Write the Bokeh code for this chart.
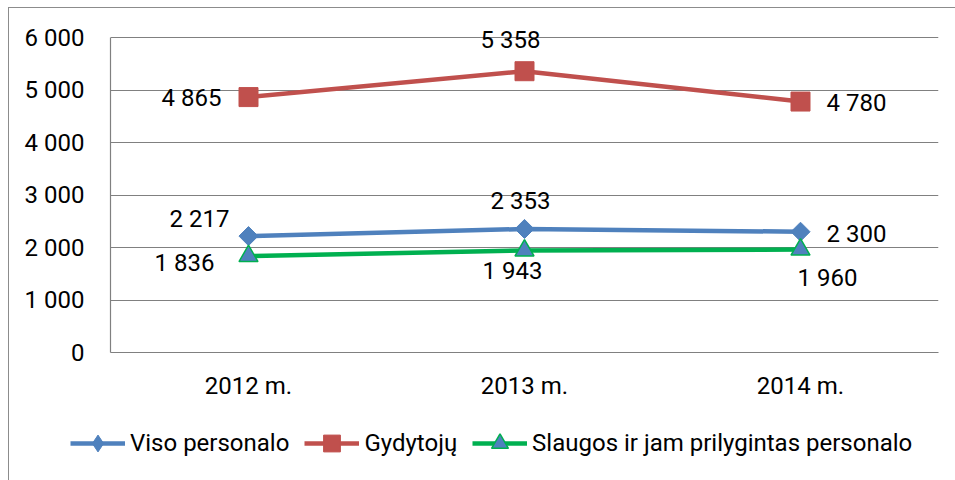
import math
from bokeh.plotting import figure
from bokeh.layouts import column
from bokeh.models import (FactorRange, Range1d, FixedTicker, ColumnDataSource,
                          Legend, LegendItem, LabelSet)
from bokeh.core.properties import value
from bokeh.embed import file_html
from bokeh.resources import INLINE

# ---- data ----
years = ["2012 m.", "2013 m.", "2014 m."]
viso = [2217, 2353, 2300]
gydytoju = [4865, 5358, 4780]
slaugos = [1836, 1943, 1960]
series_names = ["Viso personalo", "Gydytojų", "Slaugos ir jam prilygintas personalo"]
y_ticks = [0, 1000, 2000, 3000, 4000, 5000, 6000]

# ---- style ----
FONT = "Roboto"
FS = "24px"
BLUE = "#4F81BD"
RED = "#C0504D"
GREEN = "#00B050"
GRID = "#808080"
# label offsets (screen px, +x right, +y down) per point: viso, gydytoju, slaugos
label_dx = [[-49, -4, 56], [-57, -14, 56], [-64, -12, 27]]
label_dy = [[-17, -28, 2], [1, -31, 1], [7, 21, 28]]

series = [viso, gydytoju, slaugos]
line_colors = [BLUE, RED, GREEN]
marker_kw = [
    dict(marker="square", size=13.5, angle=math.pi / 4, fill_color=BLUE, line_color=BLUE),
    dict(marker="square", size=19, fill_color=RED, line_color=RED),
    dict(marker="triangle", size=19, fill_color=BLUE, line_color=GREEN, line_width=1.5),
]
legend_marker_kw = [
    dict(marker="diamond", fill_color=BLUE, line_color=BLUE),
    dict(marker="square", fill_color=RED, line_color=RED),
    dict(marker="triangle", fill_color=BLUE, line_color=GREEN, line_width=1.5),
]


def fmt(v):
    return f"{v:,}".replace(",", " ")


# frame: 0 at 352px, 6000 at 37px; range extends above 6000 so labels are not clipped
p = figure(width=946, height=410,
           x_range=FactorRange(factors=years), y_range=Range1d(0, 6400),
           output_backend="svg", toolbar_location=None,
           min_border_left=101, min_border_top=8,
           min_border_right=17, min_border_bottom=66)
p.frame_align = False
p.outline_line_color = None
p.background_fill_color = "white"
p.border_fill_color = "white"

# axes
for ax in (p.xaxis[0], p.yaxis[0]):
    ax.axis_line_color = GRID
    ax.axis_line_width = 1.2
    ax.major_tick_line_color = None
    ax.minor_tick_line_color = None
    ax.major_tick_out = 0
    ax.major_tick_in = 0
    ax.major_label_text_font = FONT
    ax.major_label_text_font_size = FS
    ax.major_label_text_color = "black"
p.xaxis.major_label_standoff = 19
p.yaxis.ticker = FixedTicker(ticks=y_ticks)
p.yaxis.bounds = (0, 6000)
p.yaxis.major_label_overrides = {t: fmt(t) for t in y_ticks}
p.yaxis.major_label_standoff = 26

p.xgrid.grid_line_color = None
p.ygrid.ticker = FixedTicker(ticks=y_ticks)
p.ygrid.grid_line_color = GRID
p.ygrid.grid_line_width = 1.2

# series
for vals, lc, mk in zip(series, line_colors, marker_kw):
    p.line(years, vals, line_color=lc, line_width=4.5)
    p.scatter(years, vals, **mk)

# data labels
xs, ys, txt, dxs, dys = [], [], [], [], []
for vals, dx, dy in zip(series, label_dx, label_dy):
    for i, v in enumerate(vals):
        xs.append(years[i])
        ys.append(v)
        txt.append(fmt(v))
        dxs.append(dx[i])
        dys.append(-dy[i])
src = ColumnDataSource(dict(x=xs, y=ys, text=txt, dx=dxs, dy=dys))
labels = LabelSet(x="x", y="y", text="text", x_offset="dx", y_offset="dy",
                  source=src, text_align="center", text_baseline="middle",
                  text_font=value(FONT), text_font_size=value(FS),
                  text_color="black")
p.add_layout(labels)

# legend strip (swatches only, no data drawn)
lg = figure(width=946, height=62, x_range=Range1d(0, 1), y_range=Range1d(0, 1),
            x_axis_type=None, y_axis_type=None,
            output_backend="svg", toolbar_location=None,
            min_border_left=0, min_border_right=0, min_border_top=0, min_border_bottom=0)
lg.frame_align = False
lg.outline_line_color = None
lg.xgrid.visible = False
lg.ygrid.visible = False
items = []
nan = float("nan")
for name, lc, mk in zip(series_names, line_colors, legend_marker_kw):
    rl = lg.line([nan], [nan], line_color=lc, line_width=4.5)
    rm = lg.scatter([nan], [nan], **mk)
    items.append(LegendItem(label=name, renderers=[rl, rm]))
legend = Legend(items=items, orientation="horizontal", location=(61, 16),
                glyph_width=55, glyph_height=42, label_standoff=5, spacing=15,
                padding=0, margin=0, border_line_color=None,
                background_fill_alpha=0,
                label_text_font=FONT, label_text_font_size=FS,
                label_text_color="black")
lg.add_layout(legend)

layout = column(p, lg, spacing=0,
                styles={"margin-left": "8px", "margin-top": "7px",
                        "border-left": "1px solid #8c8c8c",
                        "border-top": "1px solid #8c8c8c"})

open("out.html", "w").write(file_html(layout, INLINE))
